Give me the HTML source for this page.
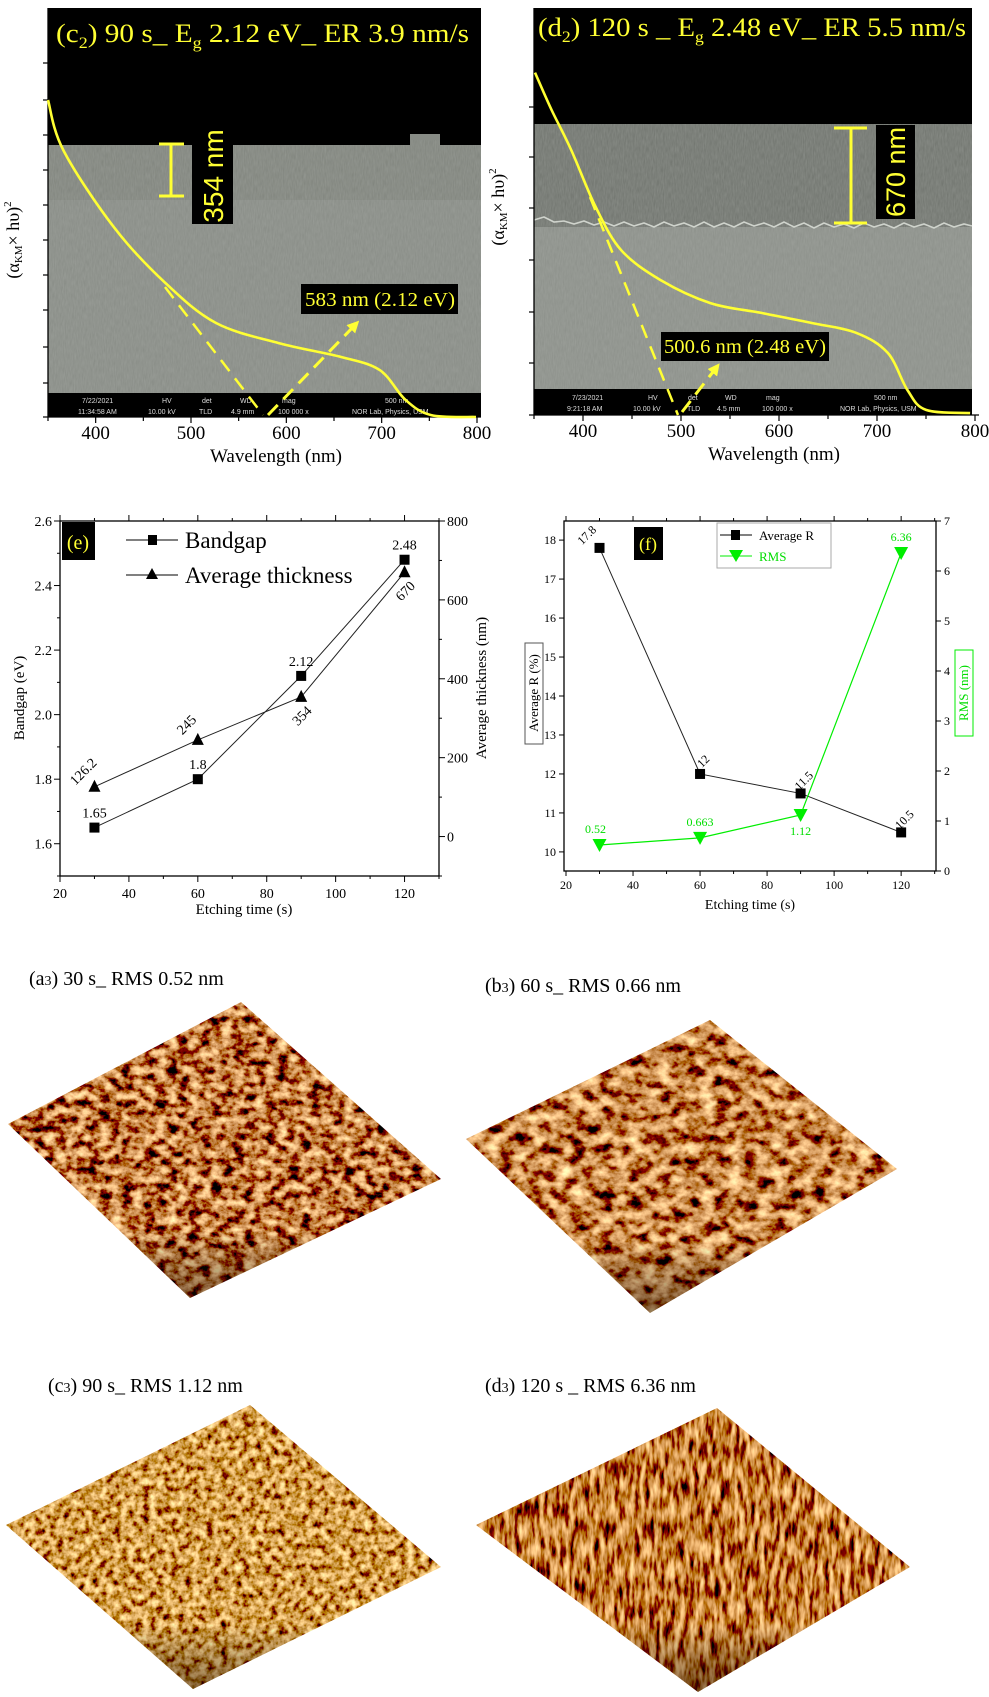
<!DOCTYPE html>
<html><head><meta charset="utf-8">
<style>
html,body{margin:0;padding:0;background:#fff;}
svg{display:block;font-family:"Liberation Serif",serif;}
</style></head>
<body>
<svg id="fig" width="989" height="1697" viewBox="0 0 989 1697" xmlns="http://www.w3.org/2000/svg">
<defs>
  <filter id="semNoise" x="0" y="0" width="1" height="1">
    <feTurbulence type="fractalNoise" baseFrequency="0.9 0.15" numOctaves="2" seed="4"/>
    <feColorMatrix type="matrix" values="0 0 0 0 0.5  0 0 0 0 0.52  0 0 0 0 0.49  0.35 0 0 0 0"/>
  </filter>
  <filter id="afmA" x="0" y="0" width="1" height="1">
    <feTurbulence type="fractalNoise" baseFrequency="0.09 0.12" numOctaves="4" seed="3"/>
    <feColorMatrix type="matrix" values="2.3 0 0 0 -0.62  1.9 0 0 0 -0.74  1.1 0 0 0 -0.5  0 0 0 0 1"/>
  </filter>
  <filter id="afmB" x="0" y="0" width="1" height="1">
    <feTurbulence type="fractalNoise" baseFrequency="0.07 0.09" numOctaves="4" seed="7"/>
    <feColorMatrix type="matrix" values="2.3 0 0 0 -0.58  1.9 0 0 0 -0.7  1.1 0 0 0 -0.48  0 0 0 0 1"/>
  </filter>
  <filter id="afmC" x="0" y="0" width="1" height="1">
    <feTurbulence type="fractalNoise" baseFrequency="0.14 0.14" numOctaves="3" seed="9"/>
    <feColorMatrix type="matrix" values="2.0 0 0 0 -0.35  1.7 0 0 0 -0.5  1.0 0 0 0 -0.42  0 0 0 0 1"/>
  </filter>
  <filter id="afmD" x="0" y="0" width="1" height="1">
    <feTurbulence type="fractalNoise" baseFrequency="0.2 0.05" numOctaves="3" seed="5"/>
    <feColorMatrix type="matrix" values="2.0 0 0 0 -0.45  1.6 0 0 0 -0.58  0.9 0 0 0 -0.42  0 0 0 0 1"/>
  </filter>
  <linearGradient id="edgeShade" x1="0" y1="0" x2="0" y2="1">
    <stop offset="0" stop-color="#000" stop-opacity="0"/>
    <stop offset="0.75" stop-color="#000" stop-opacity="0"/>
    <stop offset="1" stop-color="#2a1000" stop-opacity="0.55"/>
  </linearGradient>
  <clipPath id="clipA"><polygon points="8,1124 241,1002 441,1179 190,1298"/></clipPath>
  <clipPath id="clipB"><polygon points="466,1139 710,1020 897,1169 650,1313"/></clipPath>
  <clipPath id="clipC"><polygon points="6,1525 250,1405 441,1567 193,1689"/></clipPath>
  <clipPath id="clipD"><polygon points="476,1525 717,1408 910,1567 698,1692"/></clipPath>
  <marker id="arrowY" viewBox="0 0 10 10" refX="5" refY="5" markerWidth="4" markerHeight="4" orient="auto"><path d="M0,0L10,5L0,10z" fill="#ffff33"/></marker>
</defs>

<!-- ===== Panel c2 ===== -->
<g>
  <rect x="48" y="8" width="433" height="409" fill="#878b85"/>
  <rect x="48" y="140" width="433" height="60" fill="#7f837c"/>
  <rect x="48" y="140" width="433" height="253" filter="url(#semNoise)"/>
  <path d="M48,8H481V145H440V134H410V145H48Z" fill="#000"/>
  <rect x="48" y="393" width="433" height="24" fill="#000"/>
  <g fill="#ddd" font-family="Liberation Sans,sans-serif" font-size="7">
    <text x="82" y="403">7/22/2021</text><text x="78" y="414">11:34:58 AM</text>
    <text x="162" y="403">HV</text><text x="148" y="414">10.00 kV</text>
    <text x="202" y="403">det</text><text x="199" y="414">TLD</text>
    <text x="240" y="403">WD</text><text x="231" y="414">4.9 mm</text>
    <text x="282" y="403">mag</text><text x="278" y="414">100 000 x</text>
    <text x="385" y="403">500 nm</text><text x="352" y="414">NOR Lab, Physics, USM</text>
  </g>
  <text x="56" y="42" font-size="26" fill="#ffff33" textLength="413" lengthAdjust="spacingAndGlyphs">(c<tspan font-size="16" dy="6">2</tspan><tspan dy="-6">) 90 s_ E</tspan><tspan font-size="16" dy="6">g</tspan><tspan dy="-6"> 2.12 eV_ ER 3.9 nm/s</tspan></text>
  <g stroke="#ffff33" stroke-width="3">
    <line x1="171" y1="144" x2="171" y2="196"/><line x1="159" y1="144" x2="184" y2="144"/><line x1="159" y1="196" x2="184" y2="196"/>
  </g>
  <rect x="192" y="128" width="41" height="96" fill="#000"/>
  <text transform="translate(223,176) rotate(-90)" text-anchor="middle" font-size="28" fill="#ffff33" font-family="Liberation Sans,sans-serif">354 nm</text>
  <rect x="301" y="284" width="157" height="30" fill="#000"/>
  <text x="305" y="306" font-size="20" fill="#ffff33" textLength="150" lengthAdjust="spacingAndGlyphs">583 nm (2.12 eV)</text>
</g>

<!-- ===== Panel d2 ===== -->
<g>
  <rect x="534" y="8" width="438" height="407" fill="#8b8f89"/>
  <rect x="534" y="123" width="438" height="104" fill="#6f736d"/>
  <rect x="534" y="123" width="438" height="266" filter="url(#semNoise)"/>
  <polyline points="534,220 544,217 554,222 564,221 574,224 584,221 594,225 604,222 614,226 624,222 634,226 644,223 654,227 664,222 674,226 684,223 694,227 704,222 714,227 724,223 734,227 744,222 754,226 764,223 774,227 784,222 794,227 804,223 814,228 824,223 834,227 844,224 854,228 864,223 874,227 884,224 894,228 904,223 914,227 924,224 934,228 944,223 954,227 964,224 972,226" stroke="#cfd3cc" stroke-width="1.6" fill="none"/>
  <rect x="534" y="8" width="438" height="116" fill="#000"/>
  <rect x="534" y="389" width="438" height="26" fill="#000"/>
  <g fill="#ddd" font-family="Liberation Sans,sans-serif" font-size="7">
    <text x="572" y="400">7/23/2021</text><text x="567" y="411">9:21:18 AM</text>
    <text x="648" y="400">HV</text><text x="633" y="411">10.00 kV</text>
    <text x="688" y="400">det</text><text x="687" y="411">TLD</text>
    <text x="725" y="400">WD</text><text x="717" y="411">4.5 mm</text>
    <text x="766" y="400">mag</text><text x="762" y="411">100 000 x</text>
    <text x="874" y="400">500 nm</text><text x="840" y="411">NOR Lab, Physics, USM</text>
  </g>
  <text x="538" y="36" font-size="26" fill="#ffff33" textLength="428" lengthAdjust="spacingAndGlyphs">(d<tspan font-size="16" dy="6">2</tspan><tspan dy="-6">) 120 s _ E</tspan><tspan font-size="16" dy="6">g</tspan><tspan dy="-6"> 2.48 eV_ ER 5.5 nm/s</tspan></text>
  <g stroke="#ffff33" stroke-width="3">
    <line x1="851" y1="128" x2="851" y2="223"/><line x1="834" y1="128" x2="867" y2="128"/><line x1="834" y1="223" x2="867" y2="223"/>
  </g>
  <rect x="876" y="125" width="39" height="94" fill="#000"/>
  <text transform="translate(905,172) rotate(-90)" text-anchor="middle" font-size="27" fill="#ffff33" font-family="Liberation Sans,sans-serif">670 nm</text>
  <rect x="661" y="332" width="168" height="29" fill="#000"/>
  <text x="664" y="353" font-size="20" fill="#ffff33" textLength="162" lengthAdjust="spacingAndGlyphs">500.6 nm (2.48 eV)</text>
</g>

<g id="semLayer"></g>
<g id="chartE"></g>
<g id="chartF"></g>

<!-- ===== AFM panels ===== -->
<g>
  <text x="29" y="985" font-size="20">(a<tspan font-size="14">3</tspan>) 30 s_ RMS 0.52 nm</text>
  <rect x="0" y="990" width="450" height="320" filter="url(#afmA)" clip-path="url(#clipA)"/>
  <rect x="0" y="990" width="450" height="320" fill="url(#edgeShade)" clip-path="url(#clipA)"/>
</g>
<g>
  <text x="485" y="992" font-size="20">(b<tspan font-size="14">3</tspan>) 60 s_ RMS 0.66 nm</text>
  <rect x="460" y="1010" width="450" height="310" filter="url(#afmB)" clip-path="url(#clipB)"/>
  <rect x="460" y="1010" width="450" height="310" fill="url(#edgeShade)" clip-path="url(#clipB)"/>
</g>
<g>
  <text x="48" y="1392" font-size="20">(c<tspan font-size="14">3</tspan>) 90 s_ RMS 1.12 nm</text>
  <rect x="0" y="1400" width="450" height="297" filter="url(#afmC)" clip-path="url(#clipC)"/>
  <rect x="0" y="1400" width="450" height="297" fill="url(#edgeShade)" clip-path="url(#clipC)"/>
</g>
<g>
  <text x="485" y="1392" font-size="20">(d<tspan font-size="14">3</tspan>) 120 s _ RMS 6.36 nm</text>
  <rect x="470" y="1400" width="450" height="297" filter="url(#afmD)" clip-path="url(#clipD)"/>
  <rect x="470" y="1400" width="450" height="297" fill="url(#edgeShade)" clip-path="url(#clipD)"/>
</g>
</svg>

<script>
// ---------- SEM overlay spectra data ----------
const c2Wavelength = [350, 366, 419, 473, 526, 592, 658, 698, 725, 752, 799];
const c2Absorb     = [10, 8.42, 5.99, 4.23, 2.97, 2.33, 1.89, 1.48, 0.54, 0.06, 0];
const d2Wavelength = [351, 368, 388, 413, 439, 479, 530, 582, 634, 679, 711, 731, 750, 795];
const d2Absorb     = [10.8, 9.62, 8.36, 6.56, 5.2, 4.26, 3.53, 3.22, 2.9, 2.59, 1.96, 0.79, 0.16, 0.06];
const semTicks = [400, 500, 600, 700, 800];
// ---------- Chart e data ----------
const eTime = [30, 60, 90, 120];
const eBandgap = [1.65, 1.8, 2.12, 2.48];
const eThickness = [126.2, 245, 354, 670];
const eBandgapLabels = ["1.65", "1.8", "2.12", "2.48"];
const eThickLabels = ["126.2", "245", "354", "670"];
const eXTicks = [20, 40, 60, 80, 100, 120];
const eYTicks = [1.6, 1.8, 2.0, 2.2, 2.4, 2.6];
const eY2Ticks = [0, 200, 400, 600, 800];
// ---------- Chart f data ----------
const fTime = [30, 60, 90, 120];
const fAvgR = [17.8, 12, 11.5, 10.5];
const fRMS = [0.52, 0.663, 1.12, 6.36];
const fAvgRLabels = ["17.8", "12", "11.5", "10.5"];
const fRMSLabels = ["0.52", "0.663", "1.12", "6.36"];
const fXTicks = [20, 40, 60, 80, 100, 120];
const fYTicks = [10, 11, 12, 13, 14, 15, 16, 17, 18];
const fY2Ticks = [0, 1, 2, 3, 4, 5, 6, 7];

const NS = "http://www.w3.org/2000/svg";
function mk(parent, tag, attrs, txt) {
  const e = document.createElementNS(NS, tag);
  for (const k in attrs) e.setAttribute(k, attrs[k]);
  if (txt !== undefined) e.textContent = txt;
  parent.appendChild(e);
  return e;
}
function lin(d0, d1, p0, p1) { return v => p0 + (v - d0) * (p1 - p0) / (d1 - d0); }
function smooth(pts) {
  let d = "M" + pts[0][0].toFixed(1) + "," + pts[0][1].toFixed(1);
  for (let i = 0; i < pts.length - 1; i++) {
    const p0 = pts[i - 1] || pts[i], p1 = pts[i], p2 = pts[i + 1], p3 = pts[i + 2] || p2;
    const c1x = p1[0] + (p2[0] - p0[0]) / 6, c1y = p1[1] + (p2[1] - p0[1]) / 6;
    const c2x = p2[0] - (p3[0] - p1[0]) / 6, c2y = p2[1] - (p3[1] - p1[1]) / 6;
    d += `C${c1x.toFixed(1)},${c1y.toFixed(1)} ${c2x.toFixed(1)},${c2y.toFixed(1)} ${p2[0].toFixed(1)},${p2[1].toFixed(1)}`;
  }
  return d;
}

// ---------- SEM spectra ----------
(function () {
  const L = document.getElementById("semLayer");
  function semPanel(name, x0, x1, yBase, yTop, wl, ab, tickYs, xLabelX, yLabelX, yLabelY, tang, arrow) {
    const sx = lin(350, 800, x0, x1);
    const sy = lin(0, 10, yBase, yBase - 317);
    let ax = mk(L, "line", {x1: x0, y1: yBase, x2: x1 + 4, y2: yBase, stroke: "#000", "stroke-width": 1.3});
    
    
    mk(L, "line", {x1: x0, y1: yTop, x2: x0, y2: yBase, stroke: "#000", "stroke-width": 1.3});
    for (let v = 350; v <= 800; v += 50) {
      mk(L, "line", {x1: sx(v), y1: yBase, x2: sx(v), y2: yBase + (v % 100 === 0 ? 6 : 4), stroke: "#000", "stroke-width": 1.2});
    }
    semTicks.forEach(v => {
      const t = mk(L, "text", {x: sx(v), y: yBase + 22, "text-anchor": "middle", "font-size": 19}, String(v));
      
      
    });
    tickYs.forEach(y => mk(L, "line", {x1: x0 - 5, y1: y, x2: x0, y2: y, stroke: "#000", "stroke-width": 1.2}));
    const xl = mk(L, "text", {x: xLabelX, y: yBase + 45, "text-anchor": "middle", "font-size": 19}, "Wavelength (nm)");
    
    
    const yl = mk(L, "text", {transform: `translate(${yLabelX},${yLabelY}) rotate(-90)`, "text-anchor": "middle", "font-size": 18});
    
    
    yl.innerHTML = '(α<tspan font-size="11" dy="3">KM</tspan><tspan dy="-3">× hυ)</tspan><tspan font-size="11" dy="-8">2</tspan>';
    mk(L, "line", {x1: tang[0], y1: tang[1], x2: tang[2], y2: tang[3], stroke: "#ffff33", "stroke-width": 2.5, "stroke-dasharray": "14 9"});
    mk(L, "line", {x1: arrow[0], y1: arrow[1], x2: arrow[2], y2: arrow[3], stroke: "#ffff33", "stroke-width": 3, "stroke-dasharray": "14 8", "marker-end": "url(#arrowY)"});
    const pts = wl.map((w, i) => [sx(w), sy(ab[i])]);
    const p = mk(L, "path", {d: smooth(pts), fill: "none", stroke: "#ffff33", "stroke-width": 2.6, "stroke-linejoin": "round"});
    
    
  }
  semPanel("c2", 48, 477, 417, 8, c2Wavelength, c2Absorb,
    [63, 100, 135, 170, 205, 240, 275, 310, 347, 383, 417], 276, 19, 240,
    [165, 287, 263, 415], [268, 415, 355, 325]);
  semPanel("d2", 534, 975, 415, 8, d2Wavelength, d2Absorb,
    [107, 157, 208, 260, 312, 363, 415], 774, 504, 207,
    [590, 197, 678, 415], [682, 412, 716, 368]);
})();

// ---------- Chart e ----------
(function () {
  const G = document.getElementById("chartE");
  
  
  const L = 60, R = 439, T = 521, B = 876;
  const x = lin(20, 130, L, R), y = lin(1.5, 2.6, B, T), y2 = lin(-100, 800, B, T);
  mk(G, "rect", {x: L, y: T, width: R - L, height: B - T, fill: "none", stroke: "#000", "stroke-width": 1.3});
  for (let v = 20; v <= 130; v += 10) {
    const len = v % 20 === 0 ? 6 : 3;
    mk(G, "line", {x1: x(v), y1: B, x2: x(v), y2: B + len, stroke: "#000"});
    mk(G, "line", {x1: x(v), y1: T, x2: x(v), y2: T - len, stroke: "#000"});
  }
  eXTicks.forEach(v => {
    const t = mk(G, "text", {x: x(v), y: B + 22, "text-anchor": "middle", "font-size": 14}, String(v));
    
    
  });
  for (let v = 1.5; v <= 2.61; v += 0.1) mk(G, "line", {x1: L, y1: y(v), x2: L - (Math.round(v * 10) % 2 === 0 ? 6 : 3), y2: y(v), stroke: "#000"});
  eYTicks.forEach(v => {
    const t = mk(G, "text", {x: L - 8, y: y(v) + 5, "text-anchor": "end", "font-size": 14}, v.toFixed(1));
    
    
  });
  for (let v = -100; v <= 800; v += 100) mk(G, "line", {x1: R, y1: y2(v), x2: R + (v % 200 === 0 ? 6 : 3), y2: y2(v), stroke: "#000"});
  eY2Ticks.forEach(v => {
    const t = mk(G, "text", {x: R + 8, y: y2(v) + 5, "font-size": 14}, String(v));
    
    
  });
  const xt = mk(G, "text", {x: 244, y: 914, "text-anchor": "middle", "font-size": 15}, "Etching time (s)");
   
  const yt = mk(G, "text", {transform: "translate(24,698) rotate(-90)", "text-anchor": "middle", "font-size": 15}, "Bandgap (eV)");
   
  const y2t = mk(G, "text", {transform: "translate(486,688) rotate(-90)", "text-anchor": "middle", "font-size": 15}, "Average thickness (nm)");
   
  let d1 = "", d2 = "";
  eTime.forEach((t, i) => { d1 += (i ? "L" : "M") + x(t) + "," + y(eBandgap[i]); d2 += (i ? "L" : "M") + x(t) + "," + y2(eThickness[i]); });
  mk(G, "path", {d: d1, fill: "none", stroke: "#222", "stroke-width": 1});
  mk(G, "path", {d: d2, fill: "none", stroke: "#222", "stroke-width": 1});
  eTime.forEach((t, i) => {
    const s = mk(G, "rect", {x: x(t) - 5, y: y(eBandgap[i]) - 5, width: 10, height: 10, fill: "#000"});
    
    
    mk(G, "text", {x: x(t), y: y(eBandgap[i]) - 10, "text-anchor": "middle", "font-size": 14}, eBandgapLabels[i]);
    const cx = x(t), cy = y2(eThickness[i]);
    const tr = mk(G, "polygon", {points: `${cx},${cy - 7} ${cx - 6},${cy + 5} ${cx + 6},${cy + 5}`, fill: "#000"});
    
    
    const below = i >= 2;
    const lx = below ? cx + 4 : cx - 8, ly = below ? cy + 22 : cy - 12;
    mk(G, "text", {transform: `translate(${lx},${ly}) rotate(-45)`, "text-anchor": "middle", "font-size": 14}, eThickLabels[i]);
  });
  mk(G, "rect", {x: 62, y: 522, width: 33, height: 38, fill: "#000"});
  mk(G, "text", {x: 78, y: 549, "text-anchor": "middle", "font-size": 20, fill: "#ffff33"}, "(e)");
  const lg = mk(G, "g", {});
  
  
  mk(lg, "line", {x1: 126, y1: 540, x2: 178, y2: 540, stroke: "#000"});
  mk(lg, "rect", {x: 148, y: 535, width: 9, height: 10, fill: "#000"});
  mk(lg, "text", {x: 185, y: 548, "font-size": 23}, "Bandgap");
  mk(lg, "line", {x1: 126, y1: 575, x2: 178, y2: 575, stroke: "#000"});
  mk(lg, "polygon", {points: "152,568 146,579 158,579", fill: "#000"});
  mk(lg, "text", {x: 185, y: 583, "font-size": 23}, "Average thickness");
})();

// ---------- Chart f ----------
(function () {
  const G = document.getElementById("chartF");
  
  
  const L = 564, R = 936, T = 521, B = 871;
  const x = lin(20, 130.4, 566, R), y = lin(9.51, 18.49, B, T), y2 = lin(0, 7, B, T);
  mk(G, "rect", {x: L, y: T, width: R - L, height: B - T, fill: "none", stroke: "#000", "stroke-width": 1.3});
  for (let v = 20; v <= 130; v += 10) {
    const len = v % 20 === 0 ? 5 : 3;
    mk(G, "line", {x1: x(v), y1: B, x2: x(v), y2: B + len, stroke: "#000"});
    mk(G, "line", {x1: x(v), y1: T, x2: x(v), y2: T - len, stroke: "#000"});
  }
  fXTicks.forEach(v => {
    const t = mk(G, "text", {x: x(v), y: B + 18, "text-anchor": "middle", "font-size": 12}, String(v));
    
    
  });
  fYTicks.forEach(v => {
    mk(G, "line", {x1: L, y1: y(v), x2: L - 5, y2: y(v), stroke: "#000"});
    const t = mk(G, "text", {x: L - 8, y: y(v) + 4, "text-anchor": "end", "font-size": 12}, String(v));
    
    
  });
  fY2Ticks.forEach(v => {
    mk(G, "line", {x1: R, y1: y2(v), x2: R + 5, y2: y2(v), stroke: "#000"});
    const t = mk(G, "text", {x: R + 8, y: y2(v) + 4, "font-size": 12}, String(v));
    
    
  });
  const xt = mk(G, "text", {x: 750, y: 909, "text-anchor": "middle", "font-size": 14}, "Etching time (s)");
   
  mk(G, "rect", {x: 525, y: 643, width: 18, height: 101, fill: "none", stroke: "#555"});
  const yt = mk(G, "text", {transform: "translate(538,693) rotate(-90)", "text-anchor": "middle", "font-size": 13}, "Average R (%)");
   
  mk(G, "rect", {x: 955, y: 650, width: 18, height: 86, fill: "none", stroke: "#00ee00"});
  const y2t = mk(G, "text", {transform: "translate(968,693) rotate(-90)", "text-anchor": "middle", "font-size": 13, fill: "#00dd00"}, "RMS (nm)");
   
  let d1 = "", d2 = "";
  fTime.forEach((t, i) => { d1 += (i ? "L" : "M") + x(t) + "," + y(fAvgR[i]); d2 += (i ? "L" : "M") + x(t) + "," + y2(fRMS[i]); });
  mk(G, "path", {d: d1, fill: "none", stroke: "#222", "stroke-width": 1});
  mk(G, "path", {d: d2, fill: "none", stroke: "#00ee00", "stroke-width": 1.2});
  fTime.forEach((t, i) => {
    const s = mk(G, "rect", {x: x(t) - 5, y: y(fAvgR[i]) - 5, width: 10, height: 10, fill: "#000"});
    
    
    mk(G, "text", {transform: `translate(${x(t) - (i === 0 ? 10 : -6)},${y(fAvgR[i]) - 10}) rotate(-45)`, "text-anchor": "middle", "font-size": 12}, fAvgRLabels[i]);
    const cx = x(t), cy = y2(fRMS[i]);
    const tr = mk(G, "polygon", {points: `${cx - 7},${cy - 6} ${cx + 7},${cy - 6} ${cx},${cy + 7}`, fill: "#00ee00"});
    
    
    const ly = i === 2 ? cy + 20 : cy - 12;
    mk(G, "text", {x: cx - (i === 0 ? 4 : 0), y: ly, "text-anchor": "middle", "font-size": 12, fill: "#00dd00"}, fRMSLabels[i]);
  });
  mk(G, "rect", {x: 634, y: 527, width: 29, height: 33, fill: "#000"});
  mk(G, "text", {x: 648, y: 550, "text-anchor": "middle", "font-size": 18, fill: "#ffff33"}, "(f)");
  const lg = mk(G, "g", {});
  
  
  mk(lg, "rect", {x: 717, y: 523, width: 114, height: 45, fill: "#fff", stroke: "#aaa"});
  mk(lg, "line", {x1: 720, y1: 535, x2: 752, y2: 535, stroke: "#000"});
  mk(lg, "rect", {x: 731, y: 530, width: 9, height: 10, fill: "#000"});
  mk(lg, "text", {x: 759, y: 540, "font-size": 13}, "Average R");
  mk(lg, "line", {x1: 720, y1: 556, x2: 752, y2: 556, stroke: "#00ee00"});
  mk(lg, "polygon", {points: "729,550 743,550 736,562", fill: "#00ee00"});
  mk(lg, "text", {x: 759, y: 561, "font-size": 13, fill: "#00dd00"}, "RMS");
})();
</script>
</body></html>
